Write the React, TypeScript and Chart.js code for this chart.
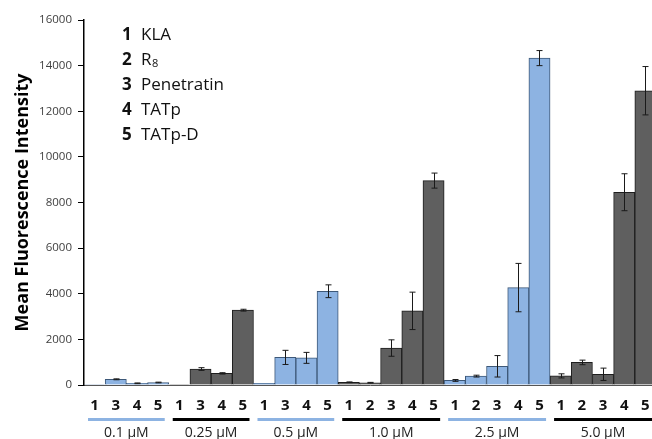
import React, { useEffect, useRef } from "react";
import { Chart, registerables } from "chart.js";

Chart.register(...registerables);

// Bar tick labels (peptide number) in order
const barLabels = [
  "1", "3", "4", "5",
  "1", "3", "4", "5",
  "1", "3", "4", "5",
  "1", "2", "3", "4", "5",
  "1", "2", "3", "4", "5",
  "1", "2", "3", "4", "5",
];
// Mean fluorescence intensity
const meanValues = [
  20, 250, 75, 110,
  20, 700, 510, 3280,
  70, 1210, 1190, 4110,
  120, 100, 1620, 3250, 8960,
  200, 390, 820, 4270, 14330,
  400, 990, 470, 8450, 12900,
];
// Error bar half lengths (0 = no bar drawn)
const errorValues = [
  0, 20, 15, 15,
  0, 60, 30, 40,
  0, 310, 240, 280,
  15, 15, 360, 820, 330,
  40, 40, 470, 1060, 330,
  90, 100, 270, 810, 1060,
];
// Concentration groups
const groupNames = ["0.1 µM", "0.25 µM", "0.5 µM", "1.0 µM", "2.5 µM", "5.0 µM"];
const groupSizes = [4, 4, 4, 5, 5, 5];
const groupIsBlue = [true, false, true, false, true, false];
// Legend entries
const legendNums = ["1", "2", "3", "4", "5"];
const legendNames = ["KLA", "R", "Penetratin", "TATp", "TATp-D"];
const legendSubs = ["", "8", "", "", ""];
const yTicks = [0, 2000, 4000, 6000, 8000, 10000, 12000, 14000, 16000];

const BLUE_FILL = "#8DB3E2";
const BLUE_BORDER = "#3D5878";
const GRAY_FILL = "#5F5F5F";
const GRAY_BORDER = "#1E1E1E";
const FONT = "'Open Sans', 'Liberation Sans', sans-serif";

export default function App() {
  const canvasRef = useRef<HTMLCanvasElement | null>(null);

  useEffect(() => {
    const canvas = canvasRef.current;
    if (!canvas) return;

    const fills: string[] = [];
    const borders: string[] = [];
    groupSizes.forEach((n, g) => {
      for (let i = 0; i < n; i++) {
        fills.push(groupIsBlue[g] ? BLUE_FILL : GRAY_FILL);
        borders.push(groupIsBlue[g] ? BLUE_BORDER : GRAY_BORDER);
      }
    });

    const decor = {
      id: "decor",
      afterDatasetsDraw(chart: any) {
        const ctx = chart.ctx as CanvasRenderingContext2D;
        const y = chart.scales.y;
        const meta = chart.getDatasetMeta(0);
        ctx.save();
        ctx.strokeStyle = "#1a1a1a";
        ctx.lineWidth = 1;
        meta.data.forEach((bar: any, i: number) => {
          const e = errorValues[i];
          if (!e) return;
          const x = Math.round(bar.x) + 0.5;
          const yt = y.getPixelForValue(meanValues[i] + e);
          const yb = y.getPixelForValue(Math.max(0, meanValues[i] - e));
          ctx.beginPath();
          ctx.moveTo(x, yt);
          ctx.lineTo(x, yb);
          ctx.moveTo(x - 3, yt);
          ctx.lineTo(x + 3, yt);
          ctx.moveTo(x - 3, yb);
          ctx.lineTo(x + 3, yb);
          ctx.stroke();
        });
        ctx.restore();
      },
      afterDraw(chart: any) {
        const ctx = chart.ctx as CanvasRenderingContext2D;
        const xs = chart.scales.x;
        const area = chart.chartArea;
        ctx.save();
        // y title
        ctx.translate(23, (area.top + area.bottom) / 2);
        ctx.rotate(-Math.PI / 2);
        ctx.font = `bold 18px ${FONT}`;
        ctx.fillStyle = "#000";
        ctx.textAlign = "center";
        ctx.textBaseline = "middle";
        ctx.fillText("Mean Fluorescence Intensity", 0, 0);
        ctx.restore();

        // legend text
        ctx.save();
        ctx.fillStyle = "#111";
        ctx.textBaseline = "middle";
        legendNums.forEach((num, i) => {
          const yy = 35 + i * 25;
          ctx.font = `bold 17px ${FONT}`;
          ctx.textAlign = "left";
          ctx.fillText(num, 122, yy);
          ctx.font = `17px ${FONT}`;
          ctx.fillText(legendNames[i], 141, yy);
          if (legendSubs[i]) {
            const w = ctx.measureText(legendNames[i]).width;
            ctx.font = `11px ${FONT}`;
            ctx.fillText(legendSubs[i], 141 + w + 0.5, yy + 4);
          }
        });
        ctx.restore();

        // group lines and labels
        ctx.save();
        const cw = xs.getPixelForValue(1) - xs.getPixelForValue(0);
        let start = 0;
        groupSizes.forEach((n, g) => {
          const x0 = xs.getPixelForValue(start) - cw / 2 + 4;
          const x1 = xs.getPixelForValue(start + n - 1) + cw / 2 - 4;
          ctx.strokeStyle = groupIsBlue[g] ? BLUE_FILL : "#000";
          ctx.lineWidth = 3;
          ctx.beginPath();
          ctx.moveTo(x0, 419.5);
          ctx.lineTo(x1, 419.5);
          ctx.stroke();
          ctx.fillStyle = "#222";
          ctx.font = `14px ${FONT}`;
          ctx.textAlign = "center";
          ctx.textBaseline = "middle";
          ctx.fillText(groupNames[g], (x0 + x1) / 2, 433);
          start += n;
        });
        ctx.restore();
      },
    };

    const chart = new Chart(canvas, {
      type: "bar",
      data: {
        labels: barLabels,
        datasets: [
          {
            data: meanValues,
            backgroundColor: fills,
            borderColor: borders,
            borderWidth: 1,
            barPercentage: 1,
            categoryPercentage: 1,
          },
        ],
      },
      options: {
        responsive: false,
        animation: false,
        devicePixelRatio: 1,
        layout: { padding: { top: 20, right: 0, bottom: 0, left: 0 } },
        plugins: { legend: { display: false }, tooltip: { enabled: false } },
        scales: {
          x: {
            afterFit: (s: any) => {
              s.height = 54;
            },
            grid: { display: false },
            border: { display: true, color: "#555", width: 1 },
            ticks: {
              color: "#111",
              font: { family: FONT, size: 15, weight: "bold" },
              padding: 4,
              maxRotation: 0,
              autoSkip: false,
            },
          },
          y: {
            min: 0,
            max: 16000,
            afterFit: (s: any) => {
              s.width = 84;
            },
            afterBuildTicks: (s: any) => {
              s.ticks = yTicks.map((v) => ({ value: v }));
            },
            grid: {
              display: true,
              drawOnChartArea: false,
              drawTicks: true,
              tickLength: 6,
              color: "#000",
            },
            border: { display: true, color: "#000", width: 1.5 },
            ticks: {
              color: "#404040",
              font: { family: FONT, size: 11.5 },
              padding: 6,
              callback: (v: any) => String(v),
            },
          },
        },
      },
      plugins: [decor],
    });

    return () => chart.destroy();
  }, []);

  return (
    <div
      style={{
        position: "fixed",
        left: 0,
        top: 0,
        width: 652,
        height: 439,
        overflow: "hidden",
        background: "#fff",
      }}
    >
      <canvas ref={canvasRef} width={656} height={439} style={{ display: "block" }} />
    </div>
  );
}
